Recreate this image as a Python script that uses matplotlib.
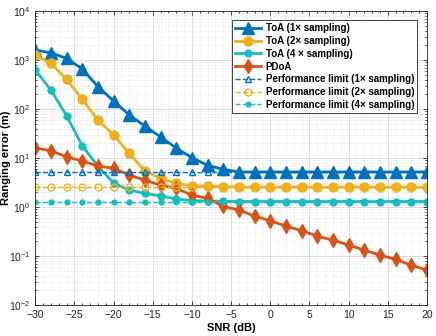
import matplotlib
matplotlib.use("Agg")
import matplotlib.pyplot as plt
from matplotlib.ticker import LogLocator, MultipleLocator, NullFormatter

plt.rcParams['font.family'] = ['Liberation Sans', 'DejaVu Sans']

# SNR grid (dB)
snr = [-30, -28, -26, -24, -22, -20, -18, -16, -14, -12, -10, -8, -6,
       -4, -2, 0, 2, 4, 6, 8, 10, 12, 14, 16, 18, 20]

# ranging error (m)
toa_1x = [1600, 1410, 1080, 660, 285, 146, 76, 45, 27, 16, 10.2, 7.1, 5.9,
          5.2, 5.2, 5.2, 5.2, 5.2, 5.2, 5.2, 5.2, 5.2, 5.2, 5.2, 5.2, 5.2]
toa_2x = [1265, 857, 404, 158, 60, 29.5, 12.5, 5.4, 3.85, 3.05, 2.72, 2.65, 2.6,
          2.55, 2.55, 2.55, 2.55, 2.55, 2.55, 2.55, 2.55, 2.55, 2.55, 2.55, 2.55, 2.55]
toa_4x = [625, 244, 73, 17.8, 6.8, 3.1, 2.22, 1.9, 1.7, 1.46, 1.36, 1.33, 1.31,
          1.3, 1.3, 1.3, 1.3, 1.3, 1.3, 1.3, 1.3, 1.3, 1.3, 1.3, 1.3, 1.3]
pdoa = [16.2, 14.1, 10.6, 8.7, 6.9, 6.2, 4.5, 3.55, 2.8, 2.4, 1.76, 1.5, 1.03,
        0.87, 0.655, 0.525, 0.41, 0.33, 0.256, 0.212, 0.168, 0.132, 0.105, 0.086, 0.065, 0.052]
lim_1x = [5.2] * len(snr)
lim_2x = [2.52] * len(snr)
lim_4x = [1.26] * len(snr)

blue = '#0072BD'
yellow = '#EDB120'
cyan = '#17BEBB'
red = '#D95319'

fig = plt.figure(figsize=(4.36, 3.36), dpi=100)
ax = fig.add_axes([0.081, 0.092, 0.898, 0.875])

ax.plot(snr, toa_1x, '-^', color=blue, lw=2, ms=8, label='ToA (1× sampling)')
ax.plot(snr, toa_2x, '-o', color=yellow, lw=2, ms=6.5, mfc=yellow, mec=yellow,
        label='ToA (2× sampling)')
ax.plot(snr, toa_4x, '-o', color=cyan, lw=2, ms=5, label='ToA (4 × sampling)')
ax.plot(snr, pdoa, '-d', color=red, lw=2, ms=7.5, label='PDoA')
ax.plot(snr, lim_1x, '--^', color=blue, lw=1, ms=5, mfc='none', mec=blue,
        label='Performance limit (1× sampling)')
ax.plot(snr, lim_2x, '--o', color=yellow, lw=1, ms=5, mfc='none', mec=yellow,
        label='Performance limit (2× sampling)')
ax.plot(snr, lim_4x, '--o', color=cyan, lw=1, ms=3.5, mfc=cyan, mec=cyan,
        label='Performance limit (4× sampling)')

ax.set_yscale('log')
ax.set_xlim(-30, 20)
ax.set_ylim(1e-2, 1e4)
ax.xaxis.set_major_locator(MultipleLocator(5))
ax.xaxis.set_minor_locator(MultipleLocator(1))
ax.yaxis.set_major_locator(LogLocator(base=10, numticks=10))
ax.yaxis.set_minor_locator(LogLocator(base=10, subs=range(2, 10), numticks=10))
ax.yaxis.set_minor_formatter(NullFormatter())

ax.grid(which='major', color='#dcdcdc', lw=0.7)
ax.grid(which='minor', color='#e0e0e0', lw=0.6, ls=':')
ax.set_axisbelow(True)
ax.tick_params(which='both', direction='in', top=True, right=True,
               labelsize=7.5, colors='#262626', width=0.6)
ax.tick_params(which='major', length=3)
ax.tick_params(which='minor', length=1.5)
for s in ax.spines.values():
    s.set_color('#262626')
    s.set_linewidth(0.6)

ax.set_xlabel('SNR (dB)', fontsize=8, fontweight='bold')
ax.set_ylabel('Ranging error (m)', fontsize=8, fontweight='bold')
ax.xaxis.set_label_coords(0.5, -0.06)
ax.yaxis.set_label_coords(-0.063, 0.5)

leg = ax.legend(loc='upper right', bbox_to_anchor=(0.975, 0.968), borderaxespad=0,
                prop={'size': 7, 'weight': 'bold'}, handlelength=2.6,
                labelspacing=0.28, handletextpad=0.5, borderpad=0.3,
                fancybox=False, framealpha=1)
leg.get_frame().set_edgecolor('#262626')
leg.get_frame().set_linewidth(0.6)

fig.savefig('out.png', dpi=100)
